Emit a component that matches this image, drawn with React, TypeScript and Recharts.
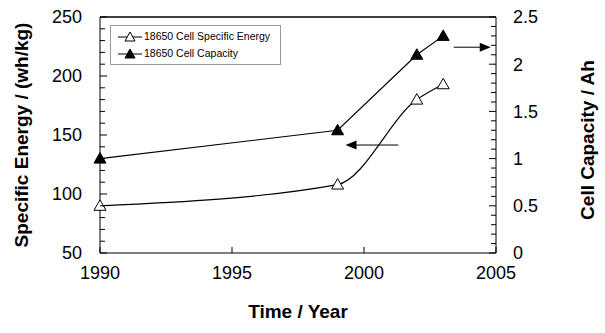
import React from 'react';
import { LineChart, Line, XAxis, YAxis, ReferenceLine, Legend, Label } from 'recharts';

const years = [1990, 1999, 2002, 2003];
const specificEnergy = [90, 108, 180, 193];
const cellCapacity = [1.0, 1.3, 2.1, 2.3];

const yearTicks = [1990, 1995, 2000, 2005];
const energyTicks = [50, 60, 70, 80, 90, 100, 110, 120, 130, 140, 150, 160, 170, 180, 190, 200, 210, 220, 230, 240, 250];
const capacityTicks = [0, 0.1, 0.2, 0.3, 0.4, 0.5, 0.6, 0.7, 0.8, 0.9, 1, 1.1, 1.2, 1.3, 1.4, 1.5, 1.6, 1.7, 1.8, 1.9, 2, 2.1, 2.2, 2.3, 2.4, 2.5];

// arrows showing which axis each curve belongs to
const energyArrow = [{ x: 2001.3, y: 141.5 }, { x: 1999.3, y: 141.5 }];
const capacityArrow = [{ x: 2003.4, y: 2.18 }, { x: 2004.8, y: 2.18 }];

const seriesOrder = ['energy', 'capacity'];

const data = years.map((year, i) => ({
  year,
  energy: specificEnergy[i],
  capacity: cellCapacity[i],
}));

const FONT = "Arial, 'Liberation Sans', sans-serif";

const Triangle = ({ cx, cy, filled }: any) => {
  if (cx == null || cy == null) return null;
  return (
    <polygon
      points={`${cx},${cy - 6} ${cx - 6},${cy + 4.5} ${cx + 6},${cy + 4.5}`}
      fill={filled ? '#000' : '#fff'}
      stroke="#000"
      strokeWidth={1}
    />
  );
};

const LeftTick = ({ x, y, payload }: any) => {
  const major = payload.value % 50 === 0;
  const px = Number(x);
  const py = Number(y);
  return (
    <g>
      <line x1={px} y1={py} x2={px + (major ? 7 : 5)} y2={py} stroke="#000" strokeWidth={1} />
      {major && (
        <text x={px - 18} y={py} dy="0.35em" textAnchor="end" fontSize={18} fontFamily={FONT} fill="#000">
          {payload.value}
        </text>
      )}
    </g>
  );
};

const RightTick = ({ x, y, payload }: any) => {
  const major = Math.abs(payload.value * 2 - Math.round(payload.value * 2)) < 1e-6;
  const px = Number(x);
  const py = Number(y);
  return (
    <g>
      <line x1={px} y1={py} x2={px - (major ? 7 : 5)} y2={py} stroke="#000" strokeWidth={1} />
      {major && (
        <text x={px + 17} y={py} dy="0.35em" textAnchor="start" fontSize={18} fontFamily={FONT} fill="#000">
          {payload.value}
        </text>
      )}
    </g>
  );
};

const BottomTick = ({ x, y, payload }: any) => {
  const px = Number(x);
  const py = Number(y);
  return (
    <g>
      <line x1={px} y1={py} x2={px} y2={py - 6} stroke="#000" strokeWidth={1} />
      <text x={px} y={py + 20} dy="0.35em" textAnchor="middle" fontSize={18} fontFamily={FONT} fill="#000">
        {payload.value}
      </text>
    </g>
  );
};

const Arrow = ({ x1, y1, x2, y2 }: any) => {
  const dir = x2 > x1 ? 1 : -1;
  return (
    <g>
      <line x1={x1} y1={y1} x2={x2 - dir * 8} y2={y2} stroke="#000" strokeWidth={1} />
      <polygon points={`${x2},${y2} ${x2 - dir * 11},${y2 - 4.5} ${x2 - dir * 11},${y2 + 4.5}`} fill="#000" />
    </g>
  );
};

const LegendBox = ({ payload }: any) => {
  const items = [...(payload || [])].sort(
    (a: any, b: any) => seriesOrder.indexOf(a.dataKey) - seriesOrder.indexOf(b.dataKey)
  );
  return (
    <div
      style={{
        border: '1px solid #999',
        background: '#fff',
        padding: '2px 6px 2px 7px',
        width: 156,
        fontFamily: FONT,
        fontSize: 10.5,
        lineHeight: '17px',
      }}
    >
      {items.map((p: any) => (
        <div key={p.value} style={{ display: 'flex', alignItems: 'center' }}>
          <svg width={24} height={12} style={{ marginRight: 2 }}>
            <line x1={0} y1={6} x2={24} y2={6} stroke="#000" strokeWidth={1} />
            <polygon
              points="12,1 7,10 17,10"
              fill={p.dataKey === 'capacity' ? '#000' : '#fff'}
              stroke="#000"
              strokeWidth={1}
            />
          </svg>
          <span>{p.value}</span>
        </div>
      ))}
    </div>
  );
};

const App = () => (
  <div style={{ position: 'absolute', left: 0, top: 0, background: '#fff' }}>
    <LineChart width={605} height={333} data={data} margin={{ top: 17, right: 0, bottom: 0, left: 0 }}>
      <XAxis
        dataKey="year"
        type="number"
        domain={[1990, 2005]}
        ticks={yearTicks}
        interval={0}
        height={80}
        tickSize={0}
        tickMargin={0}
        tickLine={false}
        tick={<BottomTick />}
        stroke="#000"
      >
        <Label
          content={({ viewBox }: any) => (
            <text
              x={viewBox.x + viewBox.width / 2}
              y={viewBox.y + 65}
              textAnchor="middle"
              fontSize={19}
              fontWeight="bold"
              fontFamily={FONT}
              fill="#000"
            >
              Time / Year
            </text>
          )}
        />
      </XAxis>
      <YAxis
        yAxisId="left"
        orientation="left"
        domain={[50, 250]}
        ticks={energyTicks}
        interval={0}
        width={100}
        tickSize={0}
        tickMargin={0}
        tickLine={false}
        tick={<LeftTick />}
        stroke="#000"
      >
        <Label
          content={({ viewBox }: any) => {
            const cx = viewBox.x + 21;
            const cy = viewBox.y + viewBox.height / 2;
            return (
              <text
                x={cx}
                y={cy}
                transform={`rotate(-90 ${cx} ${cy})`}
                textAnchor="middle"
                dominantBaseline="central"
                fontSize={19}
                fontWeight="bold"
                fontFamily={FONT}
                fill="#000"
              >
                Specific Energy / (wh/kg)
              </text>
            );
          }}
        />
      </YAxis>
      <YAxis
        yAxisId="right"
        orientation="right"
        domain={[0, 2.5]}
        ticks={capacityTicks}
        interval={0}
        width={109}
        tickSize={0}
        tickMargin={0}
        tickLine={false}
        tick={<RightTick />}
        stroke="#000"
      >
        <Label
          content={({ viewBox }: any) => {
            const cx = viewBox.x + 91;
            const cy = viewBox.y + viewBox.height / 2 + 5;
            return (
              <text
                x={cx}
                y={cy}
                transform={`rotate(-90 ${cx} ${cy})`}
                textAnchor="middle"
                dominantBaseline="central"
                fontSize={19}
                fontWeight="bold"
                fontFamily={FONT}
                fill="#000"
              >
                Cell Capacity / Ah
              </text>
            );
          }}
        />
      </YAxis>
      <ReferenceLine yAxisId="left" y={250} stroke="#000" strokeWidth={1.5} />
      <ReferenceLine yAxisId="left" segment={energyArrow} shape={<Arrow />} />
      <ReferenceLine yAxisId="right" segment={capacityArrow} shape={<Arrow />} />
      <Legend
        layout="vertical"
        verticalAlign="middle"
        align="center"
        content={<LegendBox />}
        wrapperStyle={{ position: 'absolute', left: 110, top: 25, width: 'auto', height: 'auto' }}
      />
      <Line
        yAxisId="left"
        dataKey="energy"
        name="18650 Cell Specific Energy"
        type="monotone"
        stroke="#000"
        strokeWidth={1.2}
        dot={<Triangle filled={false} />}
        activeDot={false}
        isAnimationActive={false}
      />
      <Line
        yAxisId="right"
        dataKey="capacity"
        name="18650 Cell Capacity"
        type="linear"
        stroke="#000"
        strokeWidth={1.2}
        dot={<Triangle filled />}
        activeDot={false}
        isAnimationActive={false}
      />
    </LineChart>
  </div>
);

export default App;
